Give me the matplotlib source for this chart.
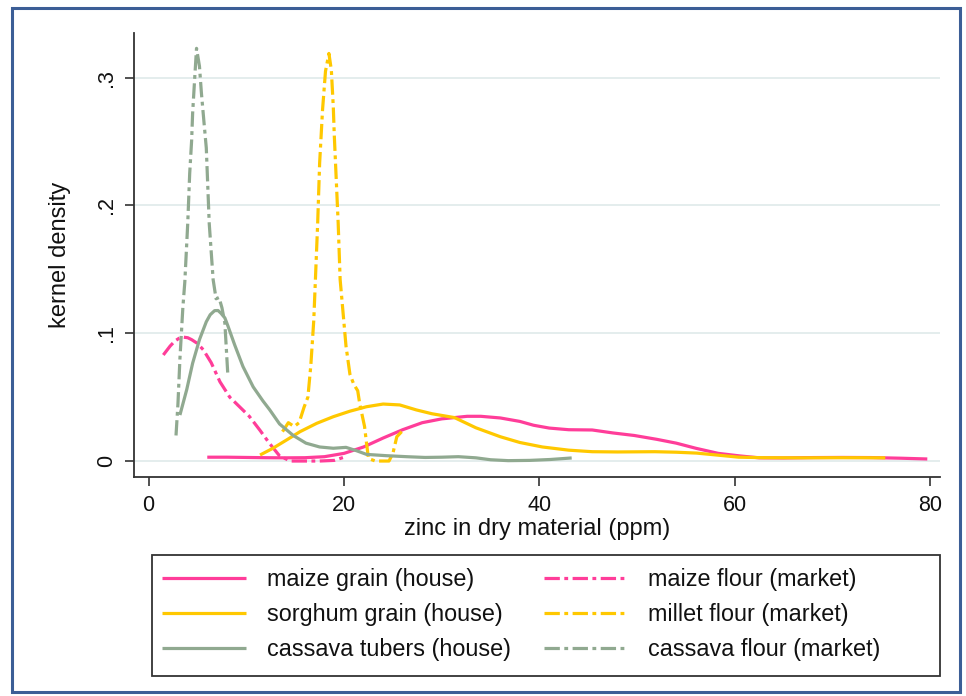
import matplotlib
matplotlib.use("Agg")
import matplotlib.pyplot as plt
from matplotlib.patches import Rectangle

plt.rcParams['font.family'] = ['Liberation Sans', 'DejaVu Sans']

# ---- data ----
maize_grain_x = [6.0, 8, 10, 12, 14, 16, 18, 20, 22, 24, 26, 28, 30, 32.6, 34, 36, 38, 39.4, 41, 43,
                 45.4, 47.5, 49.7, 52, 54, 56, 58.3, 60.5, 62.5, 65, 68, 71, 74, 77, 79.7]
maize_grain_y = [0.003, 0.003, 0.0028, 0.0026, 0.0025, 0.0026, 0.0034, 0.006, 0.011, 0.018, 0.0245,
                 0.030, 0.033, 0.035, 0.035, 0.0337, 0.031, 0.028, 0.0258, 0.0245, 0.0243, 0.022, 0.020,
                 0.017, 0.014, 0.010, 0.006, 0.004, 0.0025, 0.0024, 0.0027, 0.0028, 0.0027, 0.0022, 0.0016]

sorghum_x = [11.4, 12.7, 14.1, 15.5, 17.2, 18.9, 20.6, 22.3, 24.0, 25.7, 27.4, 29, 31.3, 33.5, 36, 38,
             40.3, 43, 45.4, 48, 51.8, 54, 56.1, 58, 60.4, 63, 66.8, 70, 73, 75.4]
sorghum_y = [0.0047, 0.0099, 0.0164, 0.023, 0.0295, 0.0347, 0.039, 0.0425, 0.0446, 0.0439, 0.040,
             0.037, 0.034, 0.026, 0.019, 0.0145, 0.011, 0.0085, 0.0073, 0.0071, 0.0073, 0.0069, 0.0062,
             0.0048, 0.003, 0.0026, 0.0025, 0.0026, 0.0026, 0.0025]

cassava_tubers_x = [3.2, 3.9, 4.5, 5.2, 5.6, 5.9, 6.3, 6.75, 7.1, 7.4, 7.8, 8.1, 8.8, 9.65, 10.7, 11.7,
                    12.4, 13.4, 14.8, 16.1, 17.5, 18.9, 20.2, 21.3, 22.3, 24.3, 26.4, 28.3, 30, 31.7,
                    33.5, 35, 36.8, 39, 41.1, 43.3]
cassava_tubers_y = [0.036, 0.056, 0.0765, 0.095, 0.103, 0.109, 0.1145, 0.1177, 0.1178, 0.1157, 0.112,
                    0.106, 0.091, 0.074, 0.058, 0.047, 0.040, 0.029, 0.020, 0.014, 0.011, 0.010, 0.0107,
                    0.008, 0.0052, 0.0042, 0.0034, 0.0028, 0.003, 0.0034, 0.0025, 0.001, 0.0003, 0.0005,
                    0.0012, 0.0024]

maize_flour_x = [1.5, 2.2, 2.7, 3.1, 3.5, 4.0, 4.4, 5.0, 5.6, 6.4, 7.3, 8.3, 9.3, 10.3, 11.4, 12.3,
                 13.4, 14.5, 16, 17.5, 19, 20]
maize_flour_y = [0.083, 0.090, 0.094, 0.096, 0.097, 0.0965, 0.095, 0.092, 0.087, 0.077, 0.062, 0.050,
                 0.0425, 0.035, 0.024, 0.0145, 0.004, 0.0, 0.0, 0.0, 0.0005, 0.003]

millet_x = [13.7, 14.3, 14.9, 15.4, 15.9, 16.3, 16.6, 16.9, 17.3, 17.5, 17.8, 18.1, 18.45, 18.7, 18.9,
            19.0, 19.4, 19.6, 20.2, 20.6, 21.0, 21.4, 21.6, 22.1, 22.3, 22.5, 23.2, 24.0, 24.6, 25.0,
            25.4, 25.9]
millet_y = [0.023, 0.030, 0.027, 0.030, 0.042, 0.050, 0.075, 0.11, 0.186, 0.233, 0.275, 0.305, 0.319,
            0.306, 0.277, 0.255, 0.186, 0.142, 0.090, 0.068, 0.060, 0.055, 0.045, 0.027, 0.014, 0.002,
            0.0, 0.0, 0.0, 0.006, 0.019, 0.023]

cassava_flour_x = [2.8, 3.0, 3.2, 3.5, 3.7, 4.0, 4.2, 4.4, 4.5, 4.7, 4.9, 5.2, 5.4, 5.7, 5.9, 6.2, 6.6,
                   6.9, 7.2, 7.5, 7.8, 8.1]
cassava_flour_y = [0.020, 0.045, 0.080, 0.120, 0.140, 0.186, 0.225, 0.251, 0.272, 0.298, 0.323, 0.309,
                   0.288, 0.262, 0.245, 0.186, 0.142, 0.127, 0.128, 0.120, 0.108, 0.068]

labels = ["maize grain (house)", "maize flour (market)", "sorghum grain (house)",
          "millet flour (market)", "cassava tubers (house)", "cassava flour (market)"]
x_ticks = [0, 20, 40, 60, 80]
y_ticks = [0, 0.1, 0.2, 0.3]
y_ticklabels = ["0", ".1", ".2", ".3"]

PINK = "#ff3d99"
GOLD = "#ffc800"
SAGE = "#90a990"
dash = (0, (4.8, 1.4, 1.2, 1.4))

W, H = 966, 696
fig = plt.figure(figsize=(W / 100, H / 100), dpi=100)
fig.patch.set_facecolor("white")

ax = fig.add_axes([134 / W, 1 - 477 / H, (940 - 134) / W, (477 - 33) / H])
lw = 2.3
series = [
    (maize_grain_x, maize_grain_y, PINK, "-", labels[0]),
    (maize_flour_x, maize_flour_y, PINK, dash, labels[1]),
    (sorghum_x, sorghum_y, GOLD, "-", labels[2]),
    (millet_x, millet_y, GOLD, dash, labels[3]),
    (cassava_tubers_x, cassava_tubers_y, SAGE, "-", labels[4]),
    (cassava_flour_x, cassava_flour_y, SAGE, dash, labels[5]),
]
handles = {}
for xs, ys, c, ls, lab in series:
    ln, = ax.plot(xs, ys, color=c, linestyle=ls, lw=lw, label=lab,
                  solid_capstyle="butt", solid_joinstyle="round", dash_joinstyle="round")
    handles[lab] = ln

ax.set_xlim(-1.5, 81)
ax.set_ylim(-0.0125, 0.335)
ax.set_xticks(x_ticks)
ax.set_yticks(y_ticks)
ax.set_yticklabels(y_ticklabels)
ax.grid(axis="y", color="#e2ecec", lw=1.3)
ax.set_axisbelow(True)
for s in ["top", "right"]:
    ax.spines[s].set_visible(False)
for s in ["left", "bottom"]:
    ax.spines[s].set_color("#333333")
    ax.spines[s].set_linewidth(1.3)
ax.tick_params(axis="both", direction="out", length=6.5, width=1.2, color="#333333",
               labelsize=15.5, labelcolor="#111111")
ax.tick_params(axis="x", pad=6.5)
ax.tick_params(axis="y", pad=6, labelrotation=90)
for t in ax.get_yticklabels():
    t.set_va("center")

ax.set_xlabel("zinc in dry material (ppm)", fontsize=17, color="#111111")
ax.set_ylabel("kernel density", fontsize=17, color="#111111")
ax.xaxis.label.set_va("baseline")
ax.xaxis.set_label_coords(0.5, (477 - 535) / 444)
ax.yaxis.set_label_coords(-0.078, 0.5)

# legend box
fig.patches.append(Rectangle((152 / W, 1 - 676 / H), (940 - 152) / W, (676 - 555) / H,
                             transform=fig.transFigure, fill=False, edgecolor="#333333",
                             lw=1.3, zorder=5))
order = [labels[0], labels[2], labels[4], labels[1], labels[3], labels[5]]
leg = fig.legend([handles[l] for l in order], order, ncol=2, frameon=False,
                 loc="upper left", bbox_to_anchor=(141 / W, 1 - 547 / H),
                 fontsize=16.8, handlelength=3.6, handletextpad=0.88, columnspacing=1.43,
                 labelspacing=0.52, borderpad=0.4)
for t in leg.get_texts():
    t.set_color("#111111")

# outer frame
fig.patches.append(Rectangle((12 / W, 1 - 692 / H), (960 - 12) / W, (692 - 8) / H,
                             transform=fig.transFigure, fill=False, edgecolor="#3c5e96",
                             lw=2.2, zorder=6))

fig.savefig("out.png", dpi=100)
